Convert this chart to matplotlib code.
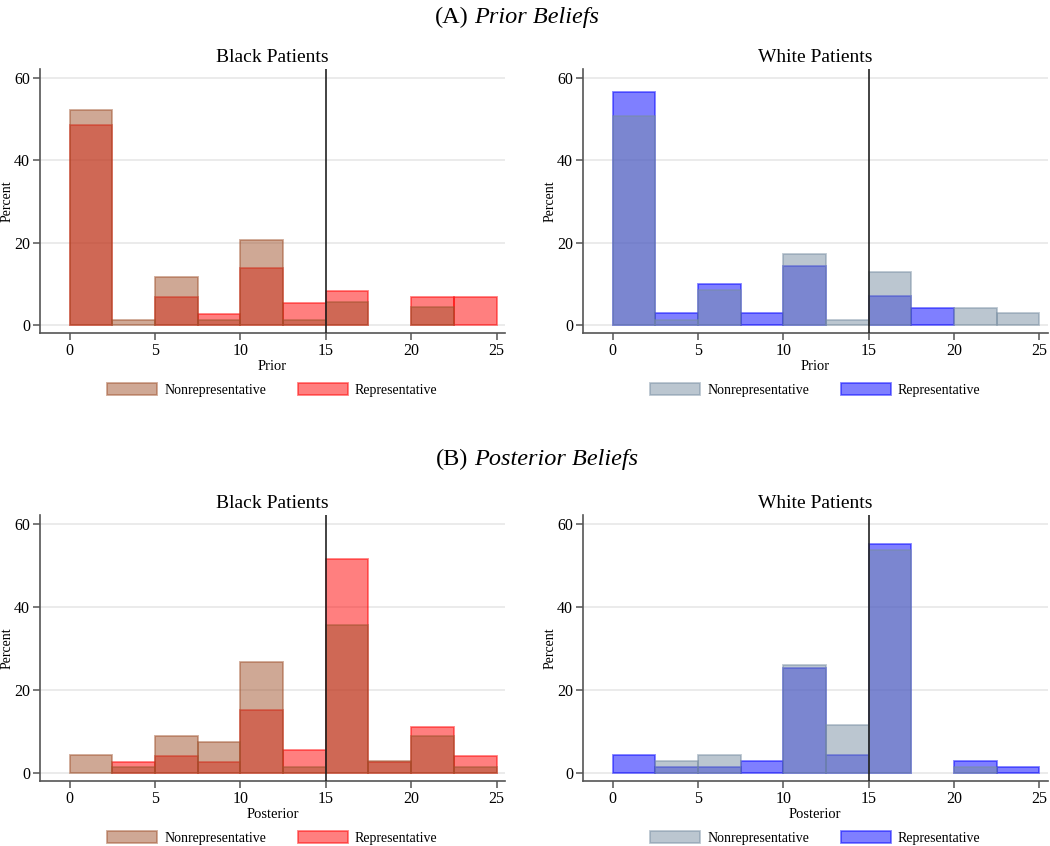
import matplotlib
matplotlib.use("Agg")
import matplotlib.pyplot as plt
from matplotlib.patches import Patch

plt.rcParams["font.family"] = ["Liberation Serif", "DejaVu Serif"]

# histogram bins: width 2.5 from 0 to 25
bin_left = [0, 2.5, 5, 7.5, 10, 12.5, 15, 17.5, 20, 22.5]
bin_width = 2.5

# percent per bin
prior_black_nonrep = [52.1, 1.4, 11.8, 1.4, 20.8, 1.4, 5.8, 0, 4.4, 0]
prior_black_rep = [48.6, 0, 6.9, 2.8, 13.9, 5.5, 8.3, 0, 6.9, 6.9]
prior_white_nonrep = [50.7, 1.4, 8.7, 0, 17.4, 1.4, 13.0, 0, 4.3, 2.9]
prior_white_rep = [56.5, 2.9, 10.1, 2.9, 14.5, 0, 7.2, 4.3, 0, 0]

post_black_nonrep = [4.4, 1.4, 8.8, 7.4, 26.8, 1.4, 35.7, 2.8, 8.9, 1.4]
post_black_rep = [0, 2.7, 4.1, 2.7, 15.1, 5.5, 51.4, 2.7, 11.0, 4.1]
post_white_nonrep = [0, 2.8, 4.2, 0, 26.0, 11.5, 53.6, 0, 1.4, 0]
post_white_rep = [4.3, 1.4, 1.4, 2.9, 25.3, 4.3, 55.1, 0, 2.9, 1.4]

threshold = 15
labels = ["Nonrepresentative", "Representative"]

black_colors = {"nonrep": (160/255, 82/255, 45/255), "rep": (1.0, 0.0, 0.0)}
white_colors = {"nonrep": (120/255, 142/255, 162/255), "rep": (0.0, 0.0, 1.0)}


def draw_bars(ax, values, color, z):
    # empty bins are not drawn at all (no outline on the baseline)
    xs = [x for x, v in zip(bin_left, values) if v > 0]
    hs = [v for v in values if v > 0]
    ax.bar(xs, hs, width=bin_width, align="edge",
           facecolor=color + (0.5,), edgecolor=color + (0.5,),
           linewidth=1.3, zorder=z)


def draw_panel(ax, nonrep, rep, colors, title, xlabel):
    # representative first, nonrepresentative drawn on top
    draw_bars(ax, rep, colors["rep"], 2)
    draw_bars(ax, nonrep, colors["nonrep"], 3)
    ax.axvline(threshold, color="#222222", linewidth=1.2, zorder=4)

    ax.set_xlim(-1.75, 25.5)
    ax.set_ylim(-1.9, 62)
    ax.set_xticks([0, 5, 10, 15, 20, 25])
    ax.set_yticks([0, 20, 40, 60])
    ax.yaxis.grid(True, color="#e8e8e8", linewidth=1.2, zorder=0)
    ax.set_axisbelow(True)
    for side in ["top", "right"]:
        ax.spines[side].set_visible(False)
    for side in ["left", "bottom"]:
        ax.spines[side].set_color("#555555")
        ax.spines[side].set_linewidth(1.2)
    ax.tick_params(colors="#555555", labelcolor="black", labelsize=11.5,
                   length=5, width=1.1, pad=2)
    ax.set_title(title, fontsize=14, pad=5)
    ax.set_xlabel(xlabel, fontsize=10.5, labelpad=1)
    ax.set_ylabel("Percent", fontsize=10)
    ax.yaxis.set_label_coords(-0.057, 0.5)

    handles = [
        Patch(facecolor=colors["nonrep"] + (0.5,), edgecolor=colors["nonrep"] + (0.5,), linewidth=1.3),
        Patch(facecolor=colors["rep"] + (0.5,), edgecolor=colors["rep"] + (0.5,), linewidth=1.3),
    ]
    ax.legend(handles, labels, loc="center", bbox_to_anchor=(0.5, -0.215),
              ncol=2, frameon=False, fontsize=10, handlelength=3.6,
              handleheight=0.9, handletextpad=0.5, columnspacing=2.3)


fig = plt.figure(figsize=(10.5, 8.46), dpi=100)

ax_pb = fig.add_axes([0.038, 0.606, 0.443, 0.312])
ax_pw = fig.add_axes([0.555, 0.606, 0.443, 0.312])
ax_qb = fig.add_axes([0.038, 0.077, 0.443, 0.314])
ax_qw = fig.add_axes([0.555, 0.077, 0.443, 0.314])

draw_panel(ax_pb, prior_black_nonrep, prior_black_rep, black_colors, "Black Patients", "Prior")
draw_panel(ax_pw, prior_white_nonrep, prior_white_rep, white_colors, "White Patients", "Prior")
draw_panel(ax_qb, post_black_nonrep, post_black_rep, black_colors, "Black Patients", "Posterior")
draw_panel(ax_qw, post_white_nonrep, post_white_rep, white_colors, "White Patients", "Posterior")

# panel headers
fig.text(0.446, 1 - 17 / 846, "(A)", fontsize=17.5, ha="right", va="center")
fig.text(0.452, 1 - 17 / 846, "Prior Beliefs", fontsize=17.5, ha="left", va="center", style="italic")
fig.text(0.446, 1 - 459 / 846, "(B)", fontsize=17.5, ha="right", va="center")
fig.text(0.452, 1 - 459 / 846, "Posterior Beliefs", fontsize=17.5, ha="left", va="center", style="italic")

fig.savefig("out.png", dpi=100)
